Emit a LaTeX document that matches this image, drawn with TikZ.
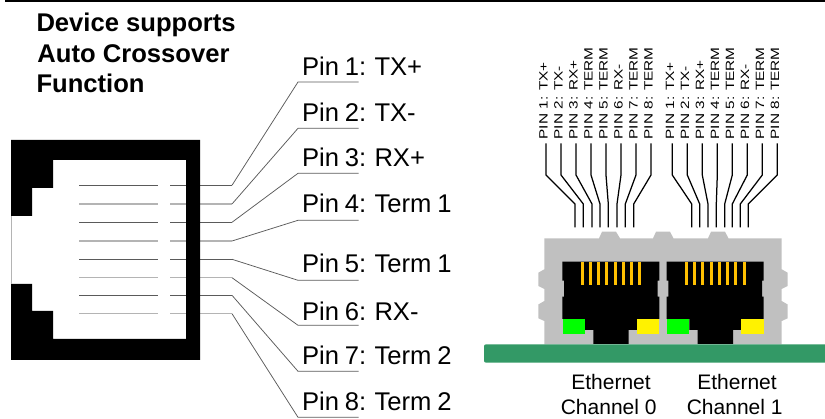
\documentclass[tikz,border=0pt]{standalone}
\usepackage{fontspec}
\setmainfont{Liberation Sans}
\newfontfamily\pinfont{Liberation Sans}[WordSpace=0.83]
\definecolor{wiredark}{HTML}{5A5A5A}
\definecolor{wirelight}{HTML}{B4B4B4}
\definecolor{body}{HTML}{C0C0C0}
\definecolor{board}{HTML}{339966}
\definecolor{contact}{HTML}{FFC000}
\tikzset{
  x=1pt,y=-1pt,
  txt/.style={anchor=base west,inner sep=0pt,outer sep=0pt,font=\pinfont\fontsize{25.6}{25.6}\selectfont},
  ttl/.style={anchor=base west,inner sep=0pt,outer sep=0pt,font=\fontsize{25.6}{25.6}\selectfont\bfseries},
  chan/.style={anchor=base,inner sep=0pt,outer sep=0pt,font=\fontsize{21}{21}\selectfont},
  vert/.style={rotate=90,anchor=base west,inner sep=0pt,outer sep=0pt,font=\fontsize{12}{12}\selectfont},
  lead/.style={draw=wiredark,line width=0.75pt},
  pinwire/.style={draw=black,line width=1.25pt},
  wirea/.style={draw=wiredark,line width=0.8pt},
  wireb/.style={draw=wirelight,line width=1.4pt},
  shell/.style={fill=body,draw=none},
  contactbar/.style={fill=contact,draw=none},
}
\newcommand{\vtext}[1]{\scalebox{1.28}[1]{#1}}
\begin{document}
\begin{tikzpicture}
\useasboundingbox (0,0) rectangle (825,419);
% top rule
\fill[black] (5,0) rectangle (825,2.4);
% title
\node[ttl] (t1) at (36.5,32) {Device supports};
\node[ttl] (t2) at (37.5,63) {Auto Crossover};
\node[ttl] (t3) at (36.5,93) {Function};
% wires of the jack
\foreach \i/\y/\ly/\sty in {1/185.3/82/wirea,2/204/128.3/wireb,3/222.3/173.3/wirea,4/241/220.3/wireb,5/259.3/280.3/wirea,6/277.7/325.3/wireb,7/295.3/371.3/wirea,8/313.7/417.3/wireb}{
  \coordinate (ja\i) at (79,\y);
  \coordinate (jb\i) at (158,\y);
  \coordinate (jc\i) at (170,\y);
  \coordinate (jd\i) at (232,\y);
  \coordinate (le\i) at (298,\ly);
  \coordinate (lf\i) at (358.5,\ly);
  \draw[\sty] (ja\i) -- (jb\i);
  \draw[\sty] (jc\i) -- (jd\i);
  \draw[lead] (jd\i) -- (le\i) -- (lf\i);
}
% jack frame
\fill[black,even odd rule] (11,140) rectangle (200,360)
  (53,160) -- (186,160) -- (186,339) -- (53,339) -- (53,311) -- (32,311) -- (32,284) -- (11,284) -- (11,216) -- (32,216) -- (32,188) -- (53,188) -- cycle;
\draw[wirelight,line width=1pt] (11.5,216) -- (11.5,284);
% pin labels
\node[txt] (p1) at (302,75.3) {Pin 1: TX+};
\node[txt] (p2) at (302,121.7) {Pin 2: TX-};
\node[txt] (p3) at (302,166.7) {Pin 3: RX+};
\node[txt] (p4) at (302,213) {Pin 4: Term 1};
\node[txt] (p5) at (302,273) {Pin 5: Term 1};
\node[txt] (p6) at (302,320.5) {Pin 6: RX-};
\node[txt] (p7) at (302,365) {Pin 7: Term 2};
\node[txt] (p8) at (302,410.7) {Pin 8: Term 2};
% connector shell
\fill[shell] (544.3,344.5) -- (544.3,321) -- (538.3,318.3) -- (538.3,304.5) -- (544.3,301) -- (544.3,289) -- (538.3,286) -- (538.3,272.7) -- (544.3,269.3) -- (544.3,238.3)
  -- (599,238.3) -- (602,231.7) -- (616,231.7) -- (620,238.3)
  -- (653,238.3) -- (656,231.7) -- (670,231.7) -- (673.5,238.3)
  -- (708,238.3) -- (711,231.7) -- (725,231.7) -- (728.5,238.3)
  -- (781.7,238.3) -- (781.7,269.3) -- (787.7,272.7) -- (787.7,286) -- (781.7,289) -- (781.7,301) -- (787.7,304.5) -- (787.7,318.3) -- (781.7,321) -- (781.7,344.5) -- cycle;
% ports
\foreach \n/\dx in {0/0,1/104.3}{
  \begin{scope}[xshift=\dx pt]
    \fill[black] (562.3,261.7) -- (659.3,261.7) -- (659.3,280.7) -- (657.7,280.7) -- (657.7,296.7) -- (659.3,296.7) -- (659.3,319) -- (637,319) -- (637,330) -- (628.7,330) -- (628.7,343.9) -- (593.3,343.9) -- (593.3,330) -- (585,330) -- (585,319) -- (562.3,319) -- (562.3,296.7) -- (564,296.7) -- (564,280.7) -- (562.3,280.7) -- cycle;
    \fill[green] (563,319) rectangle (585,333.7);
    \fill[yellow] (637,319) rectangle (659.3,333.7);
  \end{scope}
}
\foreach \c in {582.3,590.3,598.5,606.5,615.5,623.5,631.5,639.5,686.5,694.5,702.5,711,719.5,727.5,735.5,744.5}{
  \fill[contactbar] (\c-1.5,262.3) rectangle (\c+1.5,284.7);
}
% board
\fill[board,rounded corners=2pt] (484,344.3) -- (830,344.3) -- (830,362.7) -- (484,362.7) -- cycle;
% top pin wires
\foreach \i/\a/\b in {1/546/575,2/561/583.3,3/576/592,4/591/600,5/606/608.3,6/621/617,7/636/625.3,8/651/633.7,
  9/672.3/691.7,10/687.3/699.7,11/702.3/708,12/717.3/716.3,13/732.3/724.7,14/747.3/732.3,15/762.3/740.3,16/777.3/748.3}{
  \coordinate (wa\i) at (\a,143.3);
  \coordinate (wb\i) at (\a,175);
  \coordinate (wc\i) at (\b,204);
  \coordinate (wd\i) at (\b,227.3);
  \draw[pinwire] (wa\i) -- (wb\i) -- (wc\i) -- (wd\i);
}
% vertical labels
\foreach \g/\o in {a/547.5,b/674}{
  \foreach \i/\t in {0/{PIN 1: TX+},1/{PIN 2: TX-},2/{PIN 3: RX+},3/{PIN 4: TERM},4/{PIN 5: TERM},5/{PIN 6: RX-},6/{PIN 7: TERM},7/{PIN 8: TERM}}{
    \node[vert] (v\g\i) at (\o+15*\i,139.3) {\vtext{\t}};
  }
}
% channel labels
\node[chan] (e0) at (611,390) {Ethernet};
\node[chan] (c0) at (608.7,415) {Channel 0};
\node[chan] (e1) at (737,390) {Ethernet};
\node[chan] (c1) at (734.7,415) {Channel 1};
\end{tikzpicture}
\end{document}
